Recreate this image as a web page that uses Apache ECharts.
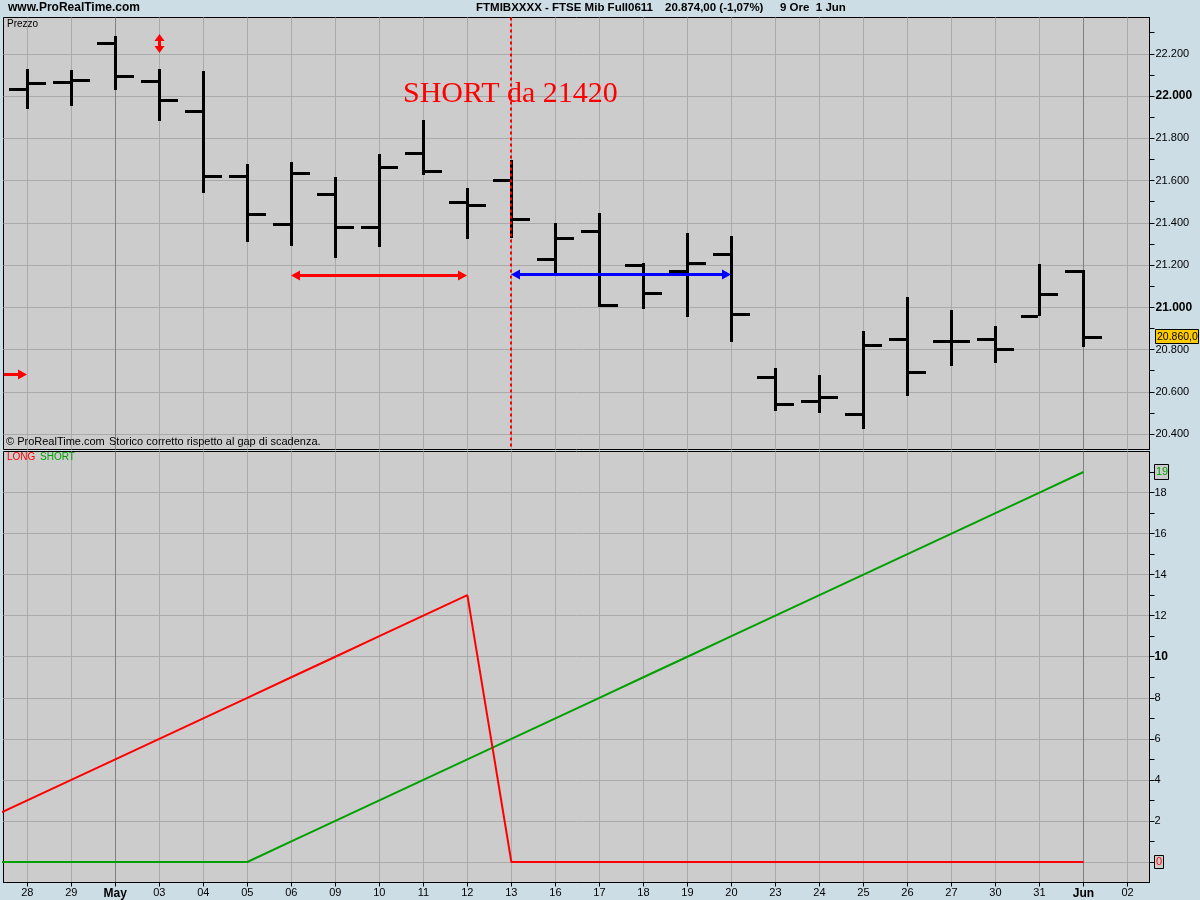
<!DOCTYPE html>
<html>
<head>
<meta charset="utf-8">
<script src="https://cdn.jsdelivr.net/npm/echarts@6/dist/echarts.min.js"></script>
<style>
  html, body { margin: 0; padding: 0; background: #CCDDE6; }
  #c { width: 1200px; height: 900px; }
</style>
</head>
<body>
<div id="c"></div>
<script>
// Trading days shown on the time axis ("02" is the next, still empty, session)
const dayLabels = ['28','29','May','03','04','05','06','09','10','11','12','13','16','17','18','19','20','23','24','25','26','27','30','31','Jun','02'];

// FTSE Mib future, daily bars
const openVals  = [22033,22067,22252,22072,21929,21622,21393,21537,21379,21730,21498,21602,21228,21362,21199,21171,21251,20669,20555,20495,20850,20841,20850,20959,21171];
const highVals  = [22128,22123,22285,22128,22118,21678,21687,21616,21726,21887,21564,21696,21398,21445,21209,21351,21336,20711,20678,20888,21049,20987,20910,21205,21175];
const lowVals   = [21941,21955,22031,21884,21540,21311,21292,21235,21287,21628,21322,21327,21150,21000,20994,20956,20834,20510,20501,20422,20579,20724,20735,20959,20814];
const closeVals = [22063,22075,22094,21982,21622,21442,21636,21379,21665,21644,21483,21420,21327,21010,21066,21209,20967,20541,20575,20822,20692,20841,20803,21063,20860];

// Position counters (bars in position) for the lower panel
const prevLong  = 2;   // value on the session before "28"
const prevShort = 0;
const longVals  = [3,4,5,6,7,8,9,10,11,12,13,0,0,0,0,0,0,0,0,0,0,0,0,0,0];
const shortVals = [0,0,0,0,0,0,1,2,3,4,5,6,7,8,9,10,11,12,13,14,15,16,17,18,19];

// Price axis ticks
const priceLabelTicks = [20400,20600,20800,21000,21200,21400,21600,21800,22000,22200];
const priceMinorTicks = [20400,20500,20600,20700,20800,20900,21000,21100,21200,21300,21400,21500,21600,21700,21800,21900,22000,22100,22200,22300];
const countLabelTicks = [2,4,6,8,10,12,14,16,18];
const countGridTicks  = [0,2,4,6,8,10,12,14,16,18];
const countMinorTicks = [0,1,2,3,4,5,6,7,8,9,10,11,12,13,14,15,16,17,18,19];

// Drawn signals
const shortDay = '13';
const shortPrice = 21420;
const longExitSpan  = ['06', '12'];
const longExitPrice = 21155;
const shortHoldSpan  = ['13', '20'];
const shortHoldPrice = 21160;
const entryDay = '28';
const entryPrice = 20683;
const signalDay = '03';
const signalRange = [22205, 22295];

const RED = '#FF0000', GREEN = '#00A000', BLUE = '#0000FF';
const dayIndex = d => dayLabels.indexOf(d);
const dayTicks = dayLabels.map((_, i) => i);
const isMonth = s => !/^\d+$/.test(s);
const dayLineColors = dayLabels.map(s => isMonth(s) ? '#808080' : '#AAAAAA');

const ohlcData = openVals.map((o, i) => [i, o, highVals[i], lowVals[i], closeVals[i]]);
const longData  = [[-1, prevLong]].concat(longVals.map((v, i) => [i, v]));
const shortData = [[-1, prevShort]].concat(shortVals.map((v, i) => [i, v]));

const fmtPrice = v => (v / 1000).toFixed(3);

function hArrow(x1, x2, y, color, headL, headR) {
  const cy = Math.round(y);
  const hl = 9, hw = 5;
  const sx1 = headL ? x1 + hl : x1;
  const sx2 = headR ? x2 - hl : x2;
  const els = [{ type: 'rect', shape: { x: sx1, y: cy - 1, width: sx2 - sx1, height: 3 }, style: { fill: color } }];
  if (headR) els.push({ type: 'polygon', shape: { points: [[x2, cy + 0.5], [x2 - hl, cy + 0.5 - hw], [x2 - hl, cy + 0.5 + hw]] }, style: { fill: color } });
  if (headL) els.push({ type: 'polygon', shape: { points: [[x1, cy + 0.5], [x1 + hl, cy + 0.5 - hw], [x1 + hl, cy + 0.5 + hw]] }, style: { fill: color } });
  return els;
}

function vArrow(x, y1, y2, color) {
  const cx = Math.round(x) + 0.5;
  const hl = 7, hw = 5;
  return [
    { type: 'rect', shape: { x: cx - 1.5, y: y1 + hl, width: 3, height: y2 - y1 - 2 * hl }, style: { fill: color } },
    { type: 'polygon', shape: { points: [[cx, y1], [cx - hw, y1 + hl], [cx + hw, y1 + hl]] }, style: { fill: color } },
    { type: 'polygon', shape: { points: [[cx, y2], [cx - hw, y2 - hl], [cx + hw, y2 - hl]] }, style: { fill: color } }
  ];
}

const chart = echarts.init(document.getElementById('c'));

const xCommon = { type: 'value', min: -0.54, max: 25.5 };

const option = {
  backgroundColor: '#CCDDE6',
  animation: false,
  textStyle: { fontFamily: 'Liberation Sans' },
  grid: [
    { left: 3.5, top: 17.5, width: 1146, height: 432, show: true, backgroundColor: '#CCCCCC', borderColor: '#000', borderWidth: 1 },
    { left: 3.5, top: 451.5, width: 1146, height: 431, show: true, backgroundColor: '#CCCCCC', borderColor: '#000', borderWidth: 1 }
  ],
  xAxis: [
    Object.assign({}, xCommon, {
      gridIndex: 0, position: 'bottom',
      axisLine: { show: false, onZero: false },
      axisTick: { show: false, customValues: dayTicks },
      axisLabel: { show: false },
      splitLine: { show: true, lineStyle: { color: dayLineColors, width: 1 } }
    }),
    Object.assign({}, xCommon, {
      gridIndex: 1, position: 'bottom',
      axisLine: { show: true, onZero: false, lineStyle: { color: '#000', width: 1 } },
      axisTick: { show: true, customValues: dayTicks, length: 4, lineStyle: { color: '#000' } },
      axisLabel: {
        customValues: dayTicks, color: '#000', fontSize: 11, margin: 5,
        formatter: v => { const s = dayLabels[Math.round(v)]; return isMonth(s) ? '{b|' + s + '}' : s; },
        rich: { b: { fontWeight: 'bold', fontSize: 12, color: '#000' } }
      },
      splitLine: { show: true, lineStyle: { color: dayLineColors, width: 1 } }
    })
  ],
  yAxis: [
    {
      gridIndex: 0, type: 'value', position: 'right', min: 20327, max: 22372,
      axisLine: { show: true, onZero: false, lineStyle: { color: '#000' } },
      axisTick: { show: true, customValues: priceMinorTicks, length: 5, lineStyle: { color: '#000' } },
      axisLabel: {
        customValues: priceLabelTicks, color: '#000', fontSize: 11, margin: 6,
        formatter: v => v % 1000 === 0 ? '{b|' + fmtPrice(v) + '}' : fmtPrice(v),
        rich: { b: { fontWeight: 'bold', fontSize: 12, color: '#000' } }
      },
      splitLine: { show: false }
    },
    {
      gridIndex: 0, type: 'value', position: 'right', min: 20327, max: 22372,
      axisLine: { show: false, onZero: false },
      axisTick: { show: false, customValues: priceLabelTicks },
      axisLabel: { show: false },
      splitLine: { show: true, lineStyle: { color: '#AAAAAA', width: 1 } }
    },
    {
      gridIndex: 1, type: 'value', position: 'right', min: -1, max: 20,
      axisLine: { show: true, onZero: false, lineStyle: { color: '#000' } },
      axisTick: { show: true, customValues: countMinorTicks, length: 5, lineStyle: { color: '#000' } },
      axisLabel: {
        customValues: countLabelTicks, color: '#000', fontSize: 11, margin: 5,
        formatter: v => v === 10 ? '{b|10}' : String(v),
        rich: { b: { fontWeight: 'bold', fontSize: 12, color: '#000' } }
      },
      splitLine: { show: false }
    },
    {
      gridIndex: 1, type: 'value', position: 'right', min: -1, max: 20,
      axisLine: { show: false, onZero: false },
      axisTick: { show: false, customValues: countGridTicks },
      axisLabel: { show: false },
      splitLine: { show: true, lineStyle: { color: '#AAAAAA', width: 1 } }
    }
  ],
  series: [
    {
      name: 'Prezzo', type: 'custom', xAxisIndex: 0, yAxisIndex: 0, z: 3,
      data: ohlcData,
      encode: { x: 0, y: [1, 2, 3, 4] },
      renderItem: (params, api) => {
        const i = api.value(0);
        const o = api.coord([i, api.value(1)]);
        const h = api.coord([i, api.value(2)]);
        const l = api.coord([i, api.value(3)]);
        const c = api.coord([i, api.value(4)]);
        const x = Math.round(o[0]);
        const yh = Math.round(h[1]), yl = Math.round(l[1]);
        const st = { fill: '#000' };
        return {
          type: 'group',
          children: [
            { type: 'rect', shape: { x: x - 1, y: yh, width: 3, height: yl - yh }, style: st },
            { type: 'rect', shape: { x: x - 18, y: Math.round(o[1]) - 1, width: 17, height: 3 }, style: st },
            { type: 'rect', shape: { x: x + 2, y: Math.round(c[1]) - 1, width: 17, height: 3 }, style: st }
          ]
        };
      }
    },
    {
      // holding spans: closed long (red) and open short (blue)
      type: 'custom', xAxisIndex: 0, yAxisIndex: 0, z: 4,
      data: [
        [dayIndex(longExitSpan[0]), dayIndex(longExitSpan[1]), longExitPrice],
        [dayIndex(shortHoldSpan[0]), dayIndex(shortHoldSpan[1]), shortHoldPrice]
      ],
      encode: { x: [0, 1], y: 2 },
      renderItem: (params, api) => {
        const a = api.coord([api.value(0), api.value(2)]);
        const b = api.coord([api.value(1), api.value(2)]);
        const color = params.dataIndex === 0 ? RED : BLUE;
        return { type: 'group', children: hArrow(Math.round(a[0]), Math.round(b[0]), a[1], color, true, true) };
      }
    },
    {
      // entry marker coming in from the left edge
      type: 'custom', xAxisIndex: 0, yAxisIndex: 0, z: 4,
      data: [[dayIndex(entryDay), entryPrice]],
      encode: { x: 0, y: 1 },
      renderItem: (params, api) => {
        const p = api.coord([api.value(0), api.value(1)]);
        const x0 = Math.floor(params.coordSys.x) + 1;
        return { type: 'group', children: hArrow(x0, Math.round(p[0]), p[1], RED, false, true) };
      }
    },
    {
      // signal marker above the bar
      type: 'custom', xAxisIndex: 0, yAxisIndex: 0, z: 4,
      data: [[dayIndex(signalDay), signalRange[0], signalRange[1]]],
      encode: { x: 0, y: [1, 2] },
      renderItem: (params, api) => {
        const lo = api.coord([api.value(0), api.value(1)]);
        const hi = api.coord([api.value(0), api.value(2)]);
        return { type: 'group', children: vArrow(lo[0], Math.round(hi[1]), Math.round(lo[1]), RED) };
      }
    },
    {
      // short entry session
      type: 'custom', xAxisIndex: 0, yAxisIndex: 0, z: 5,
      data: [[dayIndex(shortDay), shortPrice]],
      encode: { x: 0, y: 1 },
      renderItem: (params, api) => {
        const p = api.coord([api.value(0), api.value(1)]);
        const x = Math.round(p[0]);
        const cs = params.coordSys;
        return {
          type: 'line',
          shape: { x1: x, y1: cs.y, x2: x, y2: cs.y + cs.height },
          style: { stroke: RED, lineWidth: 2, lineDash: [3, 3] }
        };
      }
    },
    {
      name: 'SHORT', type: 'line', xAxisIndex: 1, yAxisIndex: 2,
      data: shortData, showSymbol: false, symbol: 'none', clip: true,
      lineStyle: { color: GREEN, width: 2 }, z: 3
    },
    {
      name: 'LONG', type: 'line', xAxisIndex: 1, yAxisIndex: 2,
      data: longData, showSymbol: false, symbol: 'none', clip: true,
      lineStyle: { color: RED, width: 2 }, z: 4
    }
  ]
};

chart.setOption(option);

// value tags on the right axes
const lastClose = closeVals[closeVals.length - 1];
const lastLong = longVals[longVals.length - 1];
const lastShort = shortVals[shortVals.length - 1];
const yClose = chart.convertToPixel({ yAxisIndex: 0 }, lastClose);
const yShort = chart.convertToPixel({ yAxisIndex: 2 }, lastShort);
const yLong = chart.convertToPixel({ yAxisIndex: 2 }, lastLong);
const fmtTag = v => Math.floor(v / 1000) + '.' + String(v % 1000).padStart(3, '0') + ',0';

const hdrFont = 'bold 11.5px "Liberation Sans"';
chart.setOption({
  graphic: [
    { type: 'text', left: 8, top: 2, style: { text: 'www.ProRealTime.com', font: 'bold 12px "Liberation Sans"', fill: '#000' } },
    { type: 'text', left: 476, top: 2, style: { text: 'FTMIBXXXX - FTSE Mib Full0611', font: hdrFont, fill: '#000' } },
    { type: 'text', left: 665, top: 2, style: { text: '20.874,00 (-1,07%)', font: hdrFont, fill: '#000' } },
    { type: 'text', left: 780, top: 2, style: { text: '9 Ore  1 Jun', font: hdrFont, fill: '#000' } },
    { type: 'text', left: 7, top: 19, style: { text: 'Prezzo', font: '10px "Liberation Sans"', fill: '#000' } },
    { type: 'text', left: 6, top: 436, style: { text: '\u00A9 ProRealTime.com', font: '11px "Liberation Sans"', fill: '#000' } },
    { type: 'text', left: 109, top: 436, style: { text: 'Storico corretto rispetto al gap di scadenza.', font: '11px "Liberation Sans"', fill: '#000' } },
    { type: 'text', left: 7, top: 452, style: { text: 'LONG', font: '10px "Liberation Sans"', fill: RED } },
    { type: 'text', left: 40, top: 452, style: { text: 'SHORT', font: '10px "Liberation Sans"', fill: GREEN } },
    { type: 'text', x: 403, y: 94, style: { text: 'SHORT da ' + shortPrice, font: '30px "Liberation Serif"', fill: RED, verticalAlign: 'middle' } },
    { type: 'rect', shape: { x: 1155.5, y: Math.round(yClose) - 7.5, width: 43, height: 14 }, style: { fill: '#FFCC00', stroke: '#000', lineWidth: 1 }, z: 10 },
    { type: 'text', x: 1157, y: Math.round(yClose), style: { text: fmtTag(lastClose), font: '10.5px "Liberation Sans"', fill: '#000', verticalAlign: 'middle' }, z: 11 },
    { type: 'rect', shape: { x: 1154.5, y: Math.round(yShort) - 7.5, width: 14, height: 15 }, style: { fill: '#CCCCCC', stroke: '#000', lineWidth: 1 }, z: 10 },
    { type: 'text', x: 1156, y: Math.round(yShort), style: { text: String(lastShort), font: '11px "Liberation Sans"', fill: GREEN, verticalAlign: 'middle' }, z: 11 },
    { type: 'rect', shape: { x: 1154.5, y: Math.round(yLong) - 6.5, width: 9, height: 13 }, style: { fill: '#CCCCCC', stroke: '#000', lineWidth: 1 }, z: 10 },
    { type: 'text', x: 1156, y: Math.round(yLong), style: { text: String(lastLong), font: '11px "Liberation Sans"', fill: RED, verticalAlign: 'middle' }, z: 11 }
  ]
});
</script>
</body>
</html>
